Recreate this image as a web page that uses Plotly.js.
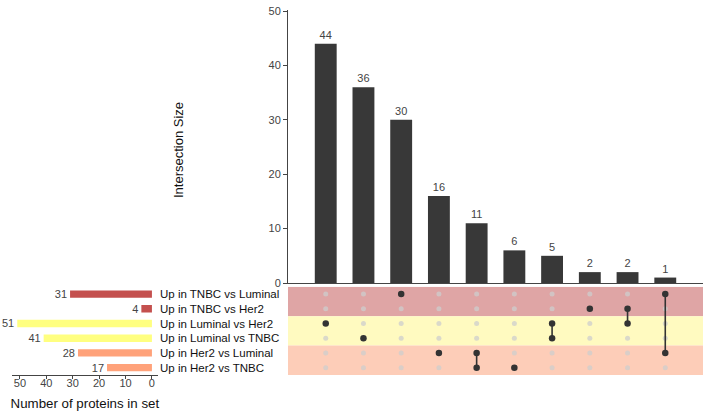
<!DOCTYPE html>
<html>
<head>
<meta charset="utf-8">
<script src="https://cdn.plot.ly/plotly-3.0.1.min.js"></script>
<style>html,body{margin:0;padding:0;background:#fff;}#chart{width:709px;height:411px;}</style>
</head>
<body>
<div id="chart"></div>
<script>
// ---- data ----
const setNames = ["Up in TNBC vs Luminal","Up in TNBC vs Her2","Up in Luminal vs Her2","Up in Luminal vs TNBC","Up in Her2 vs Luminal","Up in Her2 vs TNBC"];
const setSizes = [31, 4, 51, 41, 28, 17];
const setColors = ["#C4504E", "#C4504E", "#FFFF80", "#FFFF80", "#FFA27A", "#FFA27A"];
const intersectionSizes = [44, 36, 30, 16, 11, 6, 5, 2, 2, 1];
const intersectionMembers = [[2],[3],[0],[4],[4,5],[5],[2,3],[1],[1,2],[0,4]];
const bandColors = ["#DFA5A5", "#FFFAC0", "#FDCDB8"];
const bandRows = [[0,1],[2,3],[4,5]];

const W = 709, H = 411;
const px = v => v / W;
const py = v => 1 - v / H;

const nCols = intersectionSizes.length;
const nRows = setNames.length;
const colIdx = intersectionSizes.map((_, i) => i);
const rowIdx = setNames.map((_, i) => i);
const fontFam = 'Liberation Sans, Arial, sans-serif';
const labelFont = {size: 11, color: '#444444', family: fontFam};

const traces = [];
// top bars
traces.push({
  type: 'bar', x: colIdx, y: intersectionSizes, xaxis: 'x', yaxis: 'y',
  marker: {color: '#383838'}, width: 0.58,
  text: intersectionSizes.map(String), textposition: 'outside', cliponaxis: false,
  constraintext: 'none', textfont: labelFont, outsidetextfont: labelFont,
  hoverinfo: 'skip', showlegend: false
});
// set size bars
traces.push({
  type: 'bar', orientation: 'h', x: setSizes, y: rowIdx, xaxis: 'x3', yaxis: 'y3',
  marker: {color: setColors}, width: 0.5,
  text: setSizes.map(String), textposition: 'outside', cliponaxis: false,
  constraintext: 'none', textfont: labelFont, outsidetextfont: labelFont,
  hoverinfo: 'skip', showlegend: false
});
// matrix background dots
const gx = [], gy = [];
colIdx.forEach(c => rowIdx.forEach(r => {
  if (!intersectionMembers[c].includes(r)) { gx.push(c); gy.push(r); }
}));
traces.push({
  type: 'scatter', mode: 'markers', x: gx, y: gy, xaxis: 'x2', yaxis: 'y2',
  marker: {color: 'rgba(205,205,205,0.75)', size: 5}, hoverinfo: 'skip', showlegend: false
});
// connecting lines + active dots
intersectionMembers.forEach((m, c) => {
  traces.push({
    type: 'scatter', mode: m.length > 1 ? 'lines+markers' : 'markers',
    x: m.map(() => c), y: m, xaxis: 'x2', yaxis: 'y2',
    line: {color: '#333', width: 1.6},
    marker: {color: '#333', size: 6.5}, hoverinfo: 'skip', showlegend: false
  });
});

const shapes = bandRows.map((rr, i) => ({
  type: 'rect', xref: 'x2 domain', yref: 'y2', layer: 'below',
  x0: 0, x1: 1, y0: rr[0] - 0.5, y1: rr[1] + 0.5,
  fillcolor: bandColors[i], line: {width: 0}
}));

const matTop = 286.7, matBot = 375;

const layout = {
  width: W, height: H,
  margin: {l: 0, r: 0, t: 0, b: 0},
  paper_bgcolor: '#fff', plot_bgcolor: 'rgba(0,0,0,0)',
  font: {family: fontFam, size: 11, color: '#444'},
  showlegend: false,
  xaxis: {domain: [px(288), px(703)], range: [-1, nCols], anchor: 'y',
    showline: true, linecolor: '#444', linewidth: 1, showticklabels: false, ticks: '',
    showgrid: false, zeroline: false, fixedrange: true},
  yaxis: {domain: [py(283), py(10)], range: [0, 50.2], anchor: 'x',
    showline: true, linecolor: '#444', linewidth: 1, ticks: 'outside', ticklen: 4,
    tickcolor: '#444', tickvals: [0,10,20,30,40,50], showgrid: false, zeroline: false,
    tickfont: {size: 11, color: '#444'}, fixedrange: true},
  xaxis2: {domain: [px(288), px(703)], range: [-1, nCols], anchor: 'y2',
    visible: false, fixedrange: true},
  yaxis2: {domain: [py(matBot), py(matTop)], range: [nRows - 0.5, -0.5], anchor: 'x2',
    visible: false, fixedrange: true},
  xaxis3: {domain: [px(11.7), px(158)], range: [53.1, -2.3], anchor: 'y3',
    showline: true, linecolor: '#444', linewidth: 1, ticks: 'outside', ticklen: 3,
    tickcolor: '#444', tickvals: [0,10,20,30,40,50], showgrid: false, zeroline: false,
    tickfont: {size: 11, color: '#444'}, ticklabelstandoff: -5,
    title: {text: 'Number of proteins in set', font: {size: 13.3, color: '#111'}, standoff: 14},
    fixedrange: true},
  yaxis3: {domain: [py(matBot), py(matTop)], range: [nRows - 0.5, -0.5], anchor: 'x3',
    side: 'right', showline: false, ticks: '', showgrid: false, zeroline: false,
    tickvals: rowIdx, ticktext: setNames, ticklabelstandoff: 1,
    tickfont: {size: 11.5, color: '#111'}, fixedrange: true},
  shapes: shapes,
  annotations: [{
    text: 'Intersection Size', xref: 'paper', yref: 'paper',
    x: px(178), y: py(150), textangle: -90, showarrow: false,
    font: {size: 13, color: '#111'}, xanchor: 'center', yanchor: 'middle'
  }]
};

Plotly.newPlot('chart', traces, layout, {displayModeBar: false, staticPlot: true});
</script>
</body>
</html>
